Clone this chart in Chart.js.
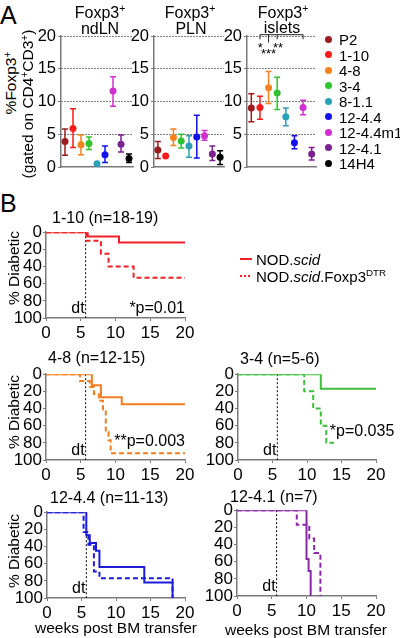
<!DOCTYPE html>
<html>
<head>
<meta charset="utf-8">
<script src="https://cdn.jsdelivr.net/npm/chart.js@4.4.1/dist/chart.umd.min.js"></script>
<style>
  body { margin: 0; width: 400px; height: 638px; position: relative; overflow: hidden; background: #fff;
         font-family: "Liberation Sans", Arial, sans-serif; color: #000; }
  canvas { position: absolute; }
  .t { position: absolute; white-space: nowrap; line-height: 1; font-size: 15px; }
  .t sup { font-size: 0.65em; vertical-align: 0.55em; line-height: 0; }
</style>
</head>
<body>
<script>
// panel A: % Foxp3+ per TCR line (mean with error bars)
var lines = ['P2', '1-10', '4-8', '3-4', '8-1.1', '12-4.4', '12-4.4m1', '12-4.1', '14H4'];
var lineColors = ['#9b1c1f', '#ff1a1a', '#f5821f', '#2fc42f', '#2a9fb6', '#1010f0', '#d030d0', '#7b2191', '#000000'];

var ndlnMean = [3.9, 5.9, 3.4, 3.6, 0.5, 1.9, 11.6, 3.5, 1.3];
var ndlnLow  = [1.8, 3.0, 1.9, 2.7, null, 0.7, 9.3, 2.3, 0.7];
var ndlnHigh = [5.8, 8.9, 4.9, 4.6, null, 3.2, 13.8, 4.9, 2.0];

var plnMean = [2.6, 1.7, 4.5, 4.0, 3.2, 4.6, 4.8, 2.0, 1.5];
var plnLow  = [1.3, null, 3.3, 2.9, 1.5, 1.4, 4.1, 1.0, 0.4];
var plnHigh = [3.9, null, 5.8, 5.0, 4.8, 7.9, 5.6, 3.2, 2.5];

var isletLines = ['P2', '1-10', '4-8', '3-4', '8-1.1', '12-4.4', '12-4.4m1', '12-4.1'];
var isletMean = [9.0, 9.1, 12.1, 11.3, 7.7, 3.7, 9.1, 2.0];
var isletLow  = [6.9, 7.3, 9.7, 8.8, 6.3, 2.8, 8.0, 1.1];
var isletHigh = [11.2, 10.8, 14.6, 13.7, 9.0, 4.8, 10.2, 3.0];

var yTicksA = [0, 5, 10, 15, 20];

// panel B: % diabetic (weeks post BM transfer)
var w110Scid = [0, 6.0, 10.5, 20];
var p110Scid = [0, 5, 12, 12];
var w110Dtr  = [0, 5.8, 7.9, 9.0, 12.6, 20];
var p110Dtr  = [0, 10, 25, 40, 53, 53];

var w48Scid = [0, 6.6, 7.9, 10.9, 20];
var p48Scid = [0, 13, 27, 35, 35];
var w48Dtr  = [0, 4.9, 6.3, 6.9, 7.6, 8.2, 8.6, 9.0, 9.3, 20];
var p48Dtr  = [0, 8, 15, 23, 31, 41, 67, 77, 92, 92];

var w34Scid = [0, 12.0, 20];
var p34Scid = [0, 17, 17];
var w34Dtr  = [0, 9.6, 10.9, 12.0, 12.8, 13.9];
var p34Dtr  = [0, 20, 40, 60, 80, 80];

var w1244Scid = [0, 5.7, 6.2, 7.1, 7.6, 14.1, 18.2];
var p1244Scid = [0, 27, 36, 45, 64, 82, 100];
var w1244Dtr  = [0, 5.3, 6.0, 6.8, 7.6, 18.2];
var p1244Dtr  = [0, 23, 38, 69, 77, 100];

var w1241Scid = [0, 10.0, 10.3, 10.6];
var p1241Scid = [0, 57, 71, 100];
var w1241Dtr  = [0, 8.6, 10.4, 11.1, 12.0];
var p1241Dtr  = [0, 17, 33, 50, 100];

var dtWeek = 5.7;

var fam = '"Liberation Sans", Arial, sans-serif';
var axisGray = '#7a7a7a';
Chart.defaults.font.family = fam;
Chart.defaults.color = '#000';
Chart.defaults.animation = false;

function colorOf(name) { return lineColors[lines.indexOf(name)]; }

function makeCanvas(area, m) {
  var c = document.createElement('canvas');
  var w = area.r - area.l + m.l + m.r, h = area.b - area.t + m.t + m.b;
  c.width = w; c.height = h;
  c.style.left = (area.l - m.l) + 'px';
  c.style.top = (area.t - m.t) + 'px';
  c.style.width = w + 'px'; c.style.height = h + 'px';
  document.body.appendChild(c);
  return c;
}

function text(html, x, y, o) {
  o = o || {};
  var d = document.createElement('div');
  d.className = 't';
  d.innerHTML = html;
  d.style.left = x + 'px';
  d.style.top = y + 'px';
  if (o.size) d.style.fontSize = o.size + 'px';
  var tx = o.align === 'left' ? '0' : '-50%';
  d.style.transform = 'translate(' + tx + ',-50%)' + (o.rot ? ' rotate(-90deg)' : '');
  document.body.appendChild(d);
}

var errorBars = {
  id: 'errorBars',
  beforeDatasetsDraw: function (chart, args, opts) {
    var ctx = chart.ctx, y = chart.scales.y;
    var meta = chart.getDatasetMeta(0);
    var cats = chart.data.labels;
    ctx.save();
    ctx.lineWidth = 1.5;
    meta.data.forEach(function (pt, i) {
      if (opts.low[i] == null) return;
      var y1 = y.getPixelForValue(opts.low[i]), y2 = y.getPixelForValue(opts.high[i]);
      ctx.strokeStyle = colorOf(cats[i]);
      ctx.beginPath();
      ctx.moveTo(pt.x, y1); ctx.lineTo(pt.x, y2);
      ctx.moveTo(pt.x - 3, y1); ctx.lineTo(pt.x + 3, y1);
      ctx.moveTo(pt.x - 3, y2); ctx.lineTo(pt.x + 3, y2);
      ctx.stroke();
    });
    ctx.restore();
  }
};

var bracket = {
  id: 'bracket',
  afterDatasetsDraw: function (chart, args, opts) {
    if (!opts || !opts.drops) return;
    var ctx = chart.ctx, x = chart.scales.x, y = chart.scales.y;
    var top = y.getPixelForValue(opts.level);
    ctx.save();
    ctx.strokeStyle = '#222';
    ctx.lineWidth = 1;
    ctx.beginPath();
    ctx.moveTo(x.getPixelForValue(opts.from), top);
    ctx.lineTo(x.getPixelForValue(opts.to), top);
    opts.drops.forEach(function (d) {
      var px = x.getPixelForValue(d[0]);
      ctx.moveTo(px, top); ctx.lineTo(px, y.getPixelForValue(d[1]));
    });
    ctx.stroke();
    ctx.fillStyle = '#000';
    ctx.font = '13px ' + fam;
    ctx.textAlign = 'center';
    ctx.textBaseline = 'alphabetic';
    opts.stars.forEach(function (s) {
      ctx.fillText(s.t, x.getPixelForValue(s.x), y.getPixelForValue(s.y));
    });
    ctx.restore();
  }
};

function dotPanel(area, cats, mean, low, high, marks) {
  var m = { l: 40, r: 6, t: 12, b: 6 };
  return new Chart(makeCanvas(area, m), {
    type: 'line',
    data: {
      labels: cats,
      datasets: [{
        data: mean,
        showLine: false,
        pointRadius: 3.5,
        pointBorderWidth: 0,
        pointBackgroundColor: cats.map(colorOf),
        pointBorderColor: cats.map(colorOf)
      }]
    },
    options: {
      responsive: false,
      layout: { padding: { top: m.t, right: m.r, left: 0, bottom: 0 } },
      plugins: {
        legend: { display: false }, tooltip: { enabled: false },
        errorBars: { low: low, high: high },
        bracket: marks || {}
      },
      scales: {
        x: {
          type: 'category', offset: true,
          afterFit: function (s) { s.height = m.b; },
          ticks: { display: false },
          grid: { display: false },
          border: { color: axisGray, width: 1.5 }
        },
        y: {
          min: 0, max: 20,
          afterFit: function (s) { s.width = m.l; },
          afterBuildTicks: function (s) { s.ticks = yTicksA.map(function (v) { return { value: v }; }); },
          ticks: { font: { size: 16.5 }, padding: 2, autoSkip: false },
          grid: {
            color: function (c) { return c.tick && c.tick.value > 0 ? '#000' : 'rgba(0,0,0,0)'; },
            lineWidth: 1, tickLength: 3, tickColor: axisGray
          },
          border: { color: axisGray, width: 1.5, dash: [1, 2] }
        }
      }
    },
    plugins: [errorBars, bracket]
  });
}

var survNotes = {
  id: 'survNotes',
  beforeDatasetsDraw: function (chart, args, opts) {
    var ctx = chart.ctx, x = chart.scales.x, y = chart.scales.y;
    var px = x.getPixelForValue(opts.dt);
    ctx.save();
    ctx.strokeStyle = '#000';
    ctx.lineWidth = 1;
    ctx.setLineDash([2, 2]);
    ctx.beginPath();
    ctx.moveTo(px, y.getPixelForValue(0));
    ctx.lineTo(px, y.getPixelForValue(100));
    ctx.stroke();
    ctx.restore();
  },
  afterDatasetsDraw: function (chart, args, opts) {
    var ctx = chart.ctx, x = chart.scales.x, y = chart.scales.y;
    ctx.save();
    ctx.fillStyle = '#000';
    ctx.font = '16px ' + fam;
    ctx.textBaseline = 'middle';
    ctx.textAlign = 'right';
    ctx.fillText('dt', x.getPixelForValue(opts.dt) - 1, y.getPixelForValue(89));
    (opts.notes || []).forEach(function (n) {
      ctx.textAlign = n.align;
      ctx.fillText(n.text, x.getPixelForValue(n.x), y.getPixelForValue(n.y));
    });
    ctx.restore();
  }
};

function xy(ws, ps) { return ws.map(function (w, i) { return { x: w, y: ps[i] }; }); }

function survPanel(area, scid, dtr, color, notes) {
  var m = { l: 44, r: 24, t: 10, b: 24 };
  var tickFont = { size: 17 };
  return new Chart(makeCanvas(area, m), {
    type: 'line',
    data: {
      datasets: [
        { data: xy(scid[0], scid[1]), borderColor: color, borderWidth: 2, stepped: true, pointRadius: 0 },
        { data: xy(dtr[0], dtr[1]), borderColor: color, borderWidth: 2, borderDash: [5, 3], stepped: true, pointRadius: 0 }
      ]
    },
    options: {
      responsive: false,
      layout: { padding: { top: m.t, right: m.r, left: 0, bottom: 0 } },
      plugins: { legend: { display: false }, tooltip: { enabled: false }, survNotes: { dt: dtWeek, notes: notes } },
      scales: {
        x: {
          type: 'linear', min: 0, max: 20,
          afterFit: function (s) { s.height = m.b; },
          ticks: { stepSize: 5, font: tickFont, padding: 2, maxRotation: 0, autoSkip: false },
          grid: { drawOnChartArea: false, tickLength: 3, tickColor: axisGray },
          border: { color: axisGray, width: 1.5 }
        },
        y: {
          type: 'linear', reverse: true, min: 0, max: 100,
          afterFit: function (s) { s.width = m.l; },
          ticks: { stepSize: 20, font: tickFont, padding: 1, autoSkip: false },
          grid: { drawOnChartArea: false, tickLength: 3, tickColor: axisGray },
          border: { color: axisGray, width: 1.5 }
        }
      }
    },
    plugins: [survNotes]
  });
}

// ---- panel A ----
dotPanel({ l: 61, r: 133, t: 36, b: 173 }, lines, ndlnMean, ndlnLow, ndlnHigh);
dotPanel({ l: 154, r: 224, t: 36, b: 173 }, lines, plnMean, plnLow, plnHigh);
dotPanel({ l: 247, r: 316, t: 36, b: 173 }, isletLines, isletMean, isletLow, isletHigh, {
  level: 20.2, from: 1, to: 6,
  drops: [[1, 19.5], [2, 19.0], [3, 19.5], [6, 19.5]],
  stars: [{ t: '*', x: 1.05, y: 17.6 }, { t: '**', x: 3.1, y: 17.6 }, { t: '***', x: 2.0, y: 16.7 }]
});

text('A', 0, 15, { align: 'left', size: 25 });
text('Foxp3<sup>+</sup>', 100, 13, { size: 16 });
text('ndLN', 100, 29, { size: 16 });
text('Foxp3<sup>+</sup>', 190, 13, { size: 16 });
text('PLN', 191, 29, { size: 16 });
text('Foxp3<sup>+</sup>', 283, 13, { size: 16 });
text('islets', 282, 28, { size: 16 });
text('%Foxp3<sup>+</sup>', 11, 83, { rot: true, size: 15.5 });
text('(gated on CD4<sup>+</sup>CD3<sup>+</sup>)', 28, 104, { rot: true, size: 15.5 });

lines.forEach(function (name, i) {
  var yy = 39 + i * 15.55;
  var dot = document.createElement('div');
  dot.style.cssText = 'position:absolute;width:7px;height:7px;border-radius:50%;left:' + (328 - 3.5) + 'px;top:' + (yy - 3.5) + 'px;background:' + lineColors[i];
  document.body.appendChild(dot);
  text(name, 339, yy, { align: 'left' });
});

// ---- panel B ----
text('B', 0, 203, { align: 'left', size: 25 });

survPanel({ l: 46, r: 185, t: 231, b: 318 }, [w110Scid, p110Scid], [w110Dtr, p110Dtr], '#ee2024',
  [{ text: '*p=0.01', x: 20, y: 89, align: 'right' }]);
survPanel({ l: 46, r: 185, t: 373, b: 460 }, [w48Scid, p48Scid], [w48Dtr, p48Dtr], '#f47c20',
  [{ text: '**p=0.003', x: 20, y: 78, align: 'right' }]);
survPanel({ l: 238, r: 376, t: 373, b: 460 }, [w34Scid, p34Scid], [w34Dtr, p34Dtr], '#3cbf3c',
  [{ text: '*p=0.035', x: 13.3, y: 67, align: 'left' }]);
survPanel({ l: 47, r: 185, t: 511, b: 598 }, [w1244Scid, p1244Scid], [w1244Dtr, p1244Dtr], '#1c1cd8', []);
survPanel({ l: 237, r: 376, t: 509, b: 596 }, [w1241Scid, p1241Scid], [w1241Dtr, p1241Dtr], '#8a27a6', []);

text('1-10 (n=18-19)', 52, 218, { align: 'left', size: 16 });
text('4-8 (n=12-15)', 48, 358, { align: 'left', size: 16 });
text('3-4 (n=5-6)', 240, 359, { align: 'left', size: 16 });
text('12-4.4 (n=11-13)', 50, 498, { align: 'left', size: 16 });
text('12-4.1 (n=7)', 230, 497, { align: 'left', size: 16 });

text('% Diabetic', 14, 268, { rot: true, size: 15.5 });
text('% Diabetic', 14, 412, { rot: true, size: 15.5 });
text('% Diabetic', 14, 551, { rot: true, size: 15.5 });
text('weeks post BM transfer', 116, 628, { size: 15.5 });
text('weeks post BM transfer', 306, 630, { size: 15.5 });

// legend for survival curves
var leg = document.createElement('div');
leg.style.cssText = 'position:absolute;left:240px;top:258px;width:12px;height:1.5px;background:#ee2024';
document.body.appendChild(leg);
var leg2 = document.createElement('div');
leg2.style.cssText = 'position:absolute;left:240px;top:275px;width:12px;height:1.5px;' +
  'background:repeating-linear-gradient(to right,#ee2024 0 2px,transparent 2px 4px)';
document.body.appendChild(leg2);
text('NOD.<i>scid</i>', 256, 259, { align: 'left' });
text('NOD.<i>scid</i>.Foxp3<sup>DTR</sup>', 256, 276, { align: 'left' });
</script>
</body>
</html>
